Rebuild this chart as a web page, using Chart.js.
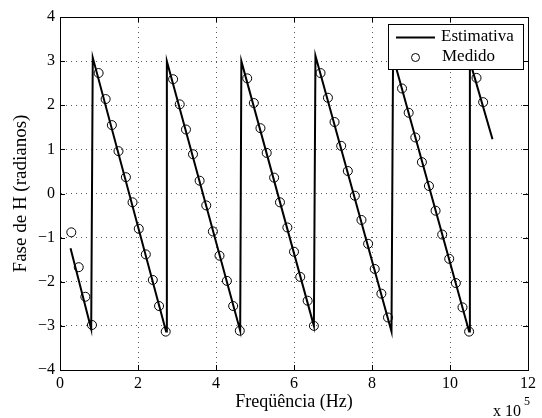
<!DOCTYPE html>
<html>
<head>
<meta charset="utf-8">
<script src="https://cdn.jsdelivr.net/npm/chart.js@4"></script>
<style>
  body { margin: 0; background: #fff; }
  canvas { display: block; }
</style>
</head>
<body>
<canvas id="fase" width="542" height="418"></canvas>
<script>
// estimated phase curve (x in units of 10^5 Hz)
const estFreq = [0.27, 0.80, 0.84, 2.72, 2.74, 4.62, 4.65, 6.51, 6.55, 8.50, 8.54, 10.49, 10.51, 11.09];
const estFase = [-1.24, -3.07, 3.08, -3.13, 3.00, -3.11, 3.00, -3.00, 3.12, -3.13, 3.10, -3.13, 3.00, 1.23];

// measured points
const medFreq = [0.29, 0.48, 0.65, 0.82, 0.99, 1.17, 1.33, 1.50, 1.69, 1.86,
  2.02, 2.20, 2.38, 2.54, 2.71, 2.90, 3.07, 3.23, 3.41, 3.58,
  3.75, 3.92, 4.09, 4.28, 4.44, 4.61, 4.80, 4.97, 5.14, 5.30,
  5.49, 5.64, 5.83, 6.00, 6.16, 6.35, 6.51, 6.68, 6.87, 7.04,
  7.21, 7.38, 7.56, 7.73, 7.90, 8.07, 8.24, 8.41, 8.77, 8.94,
  9.11, 9.28, 9.46, 9.63, 9.80, 9.98, 10.15, 10.32, 10.49, 10.68, 10.85];
const medFase = [-0.88, -1.67, -2.34, -2.98, 2.73, 2.14, 1.55, 0.96, 0.37, -0.20,
  -0.80, -1.38, -1.96, -2.55, -3.13, 2.59, 2.02, 1.45, 0.89, 0.29,
  -0.27, -0.86, -1.41, -1.98, -2.55, -3.11, 2.61, 2.05, 1.48, 0.92,
  0.36, -0.20, -0.77, -1.32, -1.89, -2.43, -3.00, 2.73, 2.17, 1.62,
  1.08, 0.51, -0.05, -0.60, -1.14, -1.71, -2.27, -2.81, 2.38, 1.83,
  1.27, 0.71, 0.17, -0.39, -0.93, -1.48, -2.03, -2.58, -3.13, 2.62, 2.07];

const xTicks = [0, 2, 4, 6, 8, 10, 12];
const yTicks = [-4, -3, -2, -1, 0, 1, 2, 3, 4];

Chart.defaults.font.family = "'Liberation Serif', 'Times New Roman', serif";
Chart.defaults.color = '#000';

// box, inward ticks, legend and exponent, matlab style
const matlabFrame = {
  id: 'matlabFrame',
  afterDraw(chart) {
    const ctx = chart.ctx;
    const a = chart.chartArea;
    const xs = chart.scales.x, ys = chart.scales.y;
    ctx.save();
    ctx.strokeStyle = '#000';
    ctx.lineWidth = 1;
    ctx.strokeRect(a.left + 0.5, a.top + 0.5, a.right - a.left, a.bottom - a.top);
    ctx.beginPath();
    xTicks.forEach(v => {
      const px = Math.round(xs.getPixelForValue(v)) + 0.5;
      ctx.moveTo(px, a.bottom); ctx.lineTo(px, a.bottom - 5);
      ctx.moveTo(px, a.top); ctx.lineTo(px, a.top + 5);
    });
    yTicks.forEach(v => {
      const py = Math.round(ys.getPixelForValue(v)) + 0.5;
      ctx.moveTo(a.left, py); ctx.lineTo(a.left + 5, py);
      ctx.moveTo(a.right, py); ctx.lineTo(a.right - 5, py);
    });
    ctx.stroke();

    // legend
    const ds = chart.data.datasets;
    const lx = 388, ly = 24, lw = 135, lh = 45;
    ctx.fillStyle = '#fff';
    ctx.fillRect(lx, ly, lw, lh);
    ctx.strokeRect(lx + 0.5, ly + 0.5, lw, lh);
    ctx.lineWidth = 2;
    ctx.beginPath();
    ctx.moveTo(396, 37.5); ctx.lineTo(435, 37.5);
    ctx.stroke();
    ctx.lineWidth = 1;
    ctx.beginPath();
    ctx.arc(415.5, 57.5, 4, 0, Math.PI * 2);
    ctx.stroke();
    ctx.fillStyle = '#000';
    ctx.font = "17px 'Liberation Serif'";
    ctx.textBaseline = 'middle';
    ctx.textAlign = 'left';
    ctx.fillText(ds[0].label, 441, 37);
    ctx.fillText(ds[1].label, 442, 57);

    // exponent
    ctx.font = "16px 'Liberation Serif'";
    ctx.textBaseline = 'alphabetic';
    ctx.fillText('x 10', 493, 416);
    ctx.font = "12px 'Liberation Serif'";
    ctx.fillText('5', 524, 405);
    ctx.restore();
  }
};

new Chart(document.getElementById('fase'), {
  type: 'scatter',
  data: {
    datasets: [{
      label: 'Estimativa',
      data: estFreq.map((x, i) => ({ x: x, y: estFase[i] })),
      showLine: true,
      borderColor: '#000',
      borderWidth: 2,
      pointRadius: 0,
      tension: 0
    }, {
      label: 'Medido',
      data: medFreq.map((x, i) => ({ x: x, y: medFase[i] })),
      showLine: false,
      pointRadius: 4.5,
      pointBorderWidth: 1,
      borderColor: '#000',
      backgroundColor: 'rgba(0,0,0,0)'
    }]
  },
  options: {
    responsive: false,
    animation: false,
    layout: { padding: { top: 17, right: 14, left: 0, bottom: 0 } },
    plugins: {
      legend: { display: false },
      tooltip: { enabled: false }
    },
    scales: {
      x: {
        type: 'linear',
        min: 0, max: 12,
        afterFit: s => { s.height = 48; },
        afterBuildTicks: s => { s.ticks = xTicks.map(v => ({ value: v })); },
        ticks: { font: { size: 16 }, padding: 4, maxRotation: 0 },
        grid: {
          drawTicks: false,
          lineWidth: 1,
          color: c => (c.tick && (c.tick.value === 0 || c.tick.value === 12)) ? 'rgba(0,0,0,0)' : 'rgba(0,0,0,0.65)'
        },
        border: { color: '#000', dash: [1, 4] },
        title: { display: true, text: 'Freqüência (Hz)', font: { size: 18 }, padding: { top: 0, bottom: 5 } }
      },
      y: {
        type: 'linear',
        min: -4, max: 4,
        afterFit: s => { s.width = 60; },
        afterBuildTicks: s => { s.ticks = yTicks.map(v => ({ value: v })); },
        ticks: {
          font: { size: 16 },
          padding: 5,
          callback: v => String(v).replace('-', '\u2212')
        },
        grid: {
          drawTicks: false,
          lineWidth: 1,
          color: c => (c.tick && (c.tick.value === -4 || c.tick.value === 4)) ? 'rgba(0,0,0,0)' : 'rgba(0,0,0,0.65)'
        },
        border: { color: '#000', dash: [1, 4] },
        title: { display: true, text: 'Fase de H (radianos)', font: { size: 19 }, padding: { top: 10, bottom: 0 } }
      }
    }
  },
  plugins: [matlabFrame]
});
</script>
</body>
</html>
